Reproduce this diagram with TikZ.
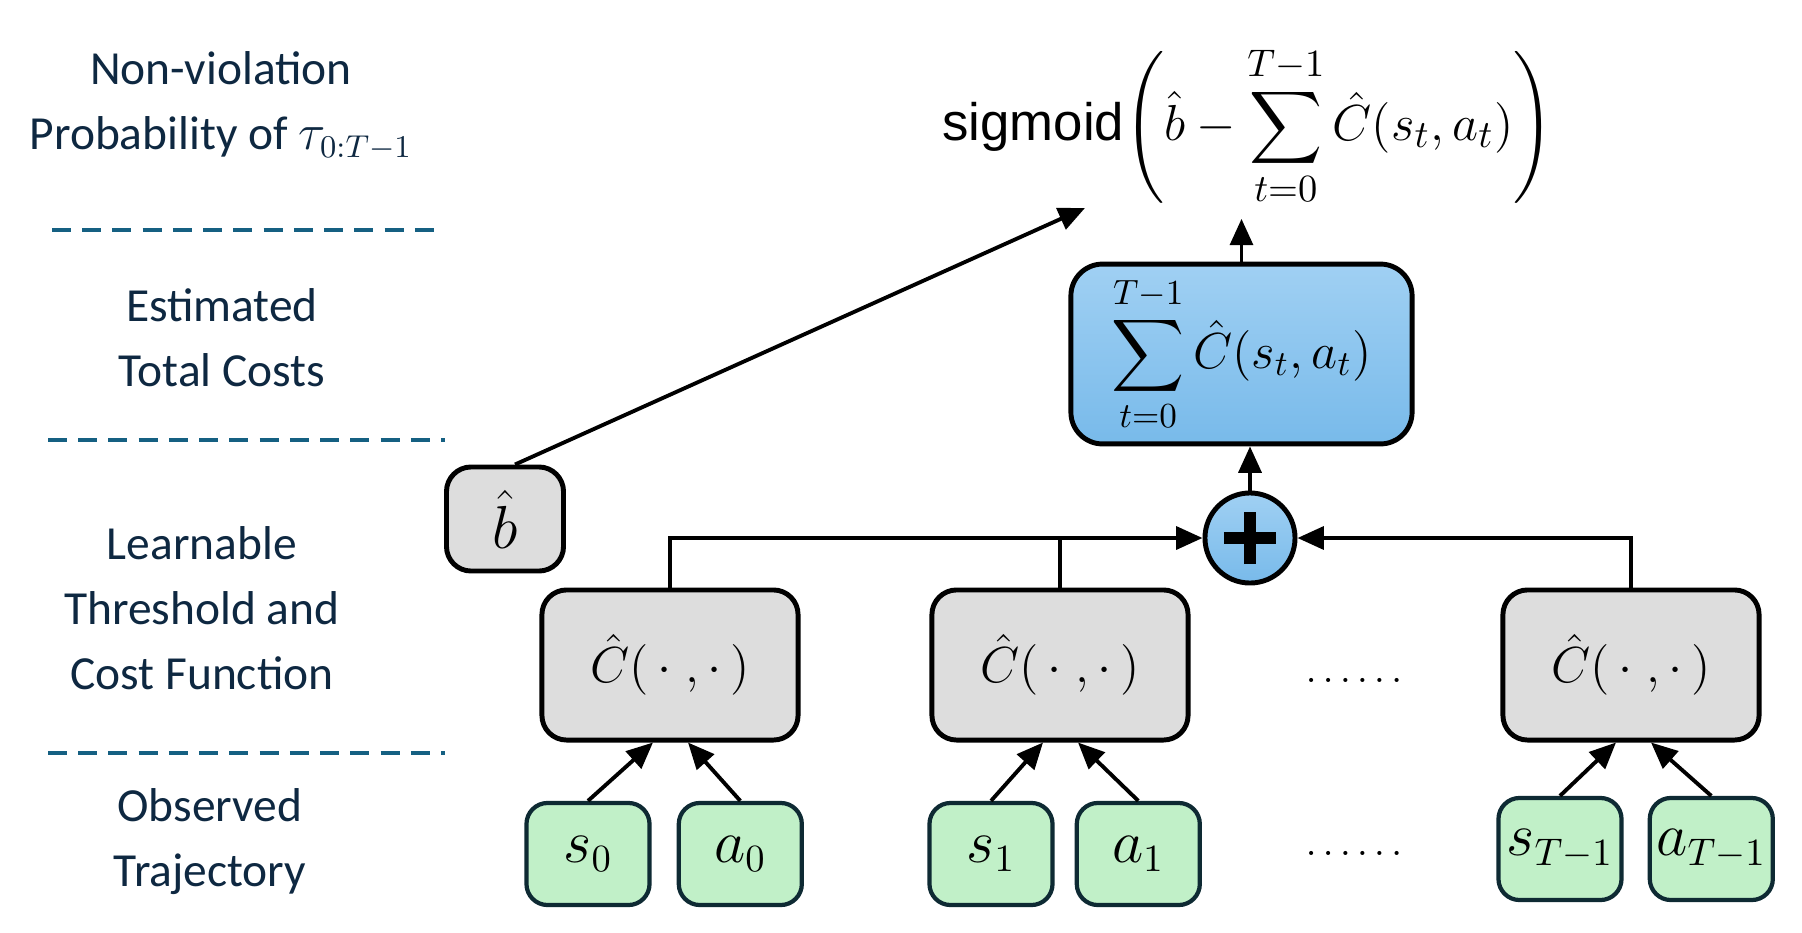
\documentclass[tikz,border=0pt]{standalone}
\usepackage{amsmath}
\usepackage[no-math]{fontspec}
\setmainfont{Carlito}
\newfontfamily\sigfont{Liberation Sans}
\usepackage{xcolor}
\usetikzlibrary{positioning,arrows.meta}

\definecolor{navy}{HTML}{0E2841}
\definecolor{sepblue}{HTML}{156082}
\definecolor{boxgray}{HTML}{DDDDDD}
\definecolor{trajgreen}{HTML}{C1F0C8}
\definecolor{trajedge}{HTML}{0E2A33}
\definecolor{sumtop}{HTML}{A0D0F3}
\definecolor{sumbot}{HTML}{78BAEA}

\begin{document}
\begin{tikzpicture}[
  x=0.01cm, y=0.01cm,
  layer/.style={font=\fontsize{13.5}{18.5}\selectfont, text=navy, align=center},
  sep/.style={sepblue, line width=1.2pt, dash pattern=on 5.4pt off 3.2pt},
  costbox/.style={rectangle, draw, fill=boxgray, line width=1.4pt, rounded corners=7pt,
    minimum width=2.56cm, minimum height=1.5cm, font=\fontsize{15}{18}\selectfont},
  obsbox/.style={rectangle, draw=trajedge, fill=trajgreen, line width=1.2pt, rounded corners=6pt,
    inner sep=0pt, minimum width=1.23cm, minimum height=1.02cm, font=\fontsize{16}{19}\selectfont},
  arrow/.style={-{Triangle[length=7.5pt,width=6.5pt]}, line width=1.1pt},
  link/.style={line width=1.1pt}
]
\useasboundingbox (0,0) rectangle (1802,932);

% layer labels on the left
\node[layer] (lprob) at (221,826) {Non-violation\\Probability of $\tau_{0:T-1}$};
\draw[sep] (52,702) -- (439,702);
\node[layer] (lcost) at (222,594) {Estimated\\Total Costs};
\draw[sep] (48,492) -- (445,492);
\node[layer] (lfunc) at (202,324) {Learnable\\Threshold and\\Cost Function};
\draw[sep] (48,179) -- (445,179);
\node[layer] (ltraj) at (210,90) {Observed\\Trajectory};

% output and total cost
\node[font=\fontsize{15}{18}\selectfont] (formula) at (1248,806)
  {{\sigfont sigmoid}$\displaystyle\left(\hat{b}-\sum_{t=0}^{T-1}\hat{C}(s_t,a_t)\right)$};
\node[rectangle, draw, line width=1.4pt, rounded corners=9pt, top color=sumtop, bottom color=sumbot,
  minimum width=3.41cm, minimum height=1.72cm, font=\fontsize{14}{17}\selectfont] (sum) at (1241.5,578)
  {$\displaystyle\sum_{t=0}^{T-1}\hat{C}(s_t,a_t)$};
\node[circle, draw, line width=1.4pt, top color=sumtop, bottom color=sumbot,
  minimum size=0.9cm, inner sep=0pt] (plus) at (1250,394) {};
\draw[line width=0.12cm] ([xshift=-0.26cm]plus.center) -- ([xshift=0.26cm]plus.center);
\draw[line width=0.12cm] ([yshift=-0.26cm]plus.center) -- ([yshift=0.26cm]plus.center);

% threshold and cost functions
\node[costbox, minimum width=1.17cm, minimum height=1.04cm, font=\fontsize{16}{19}\selectfont] (bhat) at (505,413) {$\hat{b}$};
\node[costbox] (c0) at (670,267) {$\hat{C}(\,\cdot\;,\cdot\,)$};
\node[costbox] (c1) at (1060,267) {$\hat{C}(\,\cdot\;,\cdot\,)$};
\node[costbox] (cT) at (1631,267) {$\hat{C}(\,\cdot\;,\cdot\,)$};
\node[font=\fontsize{11}{13}\selectfont, inner sep=0pt] (dotsc) at (1354,252) {$\ldots\ldots$};

% observed trajectory
\node[obsbox] (s0) at (588,78) {$s_0$};
\node[obsbox, right=0.25cm of s0] (a0) {$a_0$};
\node[obsbox] (s1) at (991,78) {$s_1$};
\node[obsbox, right=0.2cm of s1] (a1) {$a_1$};
\node[obsbox] (sT) at (1560,83) {$s_{T-1}$};
\node[obsbox, right=0.24cm of sT] (aT) {$a_{T-1}$};
\node[font=\fontsize{11}{13}\selectfont, inner sep=0pt] (dotso) at (1354,79) {$\ldots\ldots$};

\coordinate (btip) at (1085,724);
\draw[arrow] ([xshift=0.1cm]bhat.north) -- (btip);
\draw[arrow] (sum.north) -- (sum.north |- formula.south);
\draw[arrow] (plus.north) -- (plus.north |- sum.south);
\draw[arrow] (c0.north) |- (plus.west);
\draw[link] (c1.north) -- (c1.north |- plus.west);
\draw[arrow] (cT.north) |- (plus.east);

\draw[arrow] (s0.north) -- ([xshift=-0.17cm]c0.south);
\draw[arrow] (a0.north) -- ([xshift=0.18cm]c0.south);
\draw[arrow] (s1.north) -- ([xshift=-0.17cm]c1.south);
\draw[arrow] (a1.north) -- ([xshift=0.18cm]c1.south);
\draw[arrow] (sT.north) -- ([xshift=-0.15cm]cT.south);
\draw[arrow] (aT.north) -- ([xshift=0.2cm]cT.south);
\end{tikzpicture}
\end{document}
